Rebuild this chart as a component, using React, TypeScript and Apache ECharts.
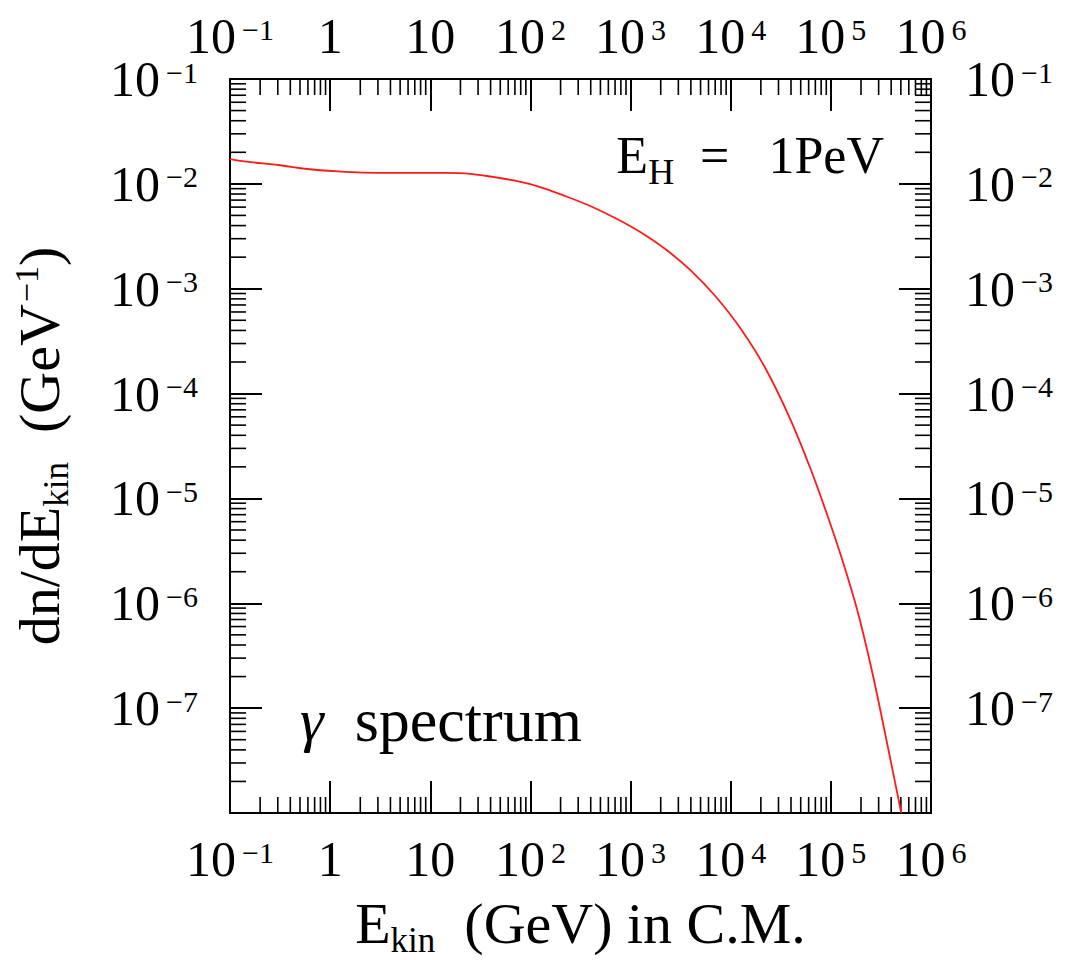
import React, { useEffect, useRef } from 'react';
import * as echarts from 'echarts';

// γ spectrum in the C.M. frame for E_H = 1 PeV
const energyGeV = [
  0.1, 0.148, 0.302, 0.589, 1.2, 2.13, 4.99, 14.7, 22.3, 39.6, 70.3, 125, 222, 395, 702, 1248,
  2218, 3936, 7000, 12440, 22130, 39270, 62230, 92040, 133000, 187900, 265400, 365700, 505000,
];
const dnDE = [
  1.725e-2, 1.626e-2, 1.513e-2, 1.386e-2, 1.313e-2, 1.278e-2, 1.27e-2, 1.27e-2, 1.256e-2, 1.175e-2,
  1.071e-2, 9.33e-3, 7.66e-3, 6.15e-3, 4.72e-3, 3.47e-3, 2.39e-3, 1.51e-3, 8.52e-4, 4.22e-4,
  1.753e-4, 5.72e-5, 1.951e-5, 6.95e-6, 2.42e-6, 7.91e-7, 1.98e-7, 4.55e-8, 1.0e-8,
];

// axis ranges and tick decades
const X_MIN = 0.1;
const X_MAX = 1e6;
const Y_MIN = 1e-8;
const Y_MAX = 1e-1;
const xDecades = [-1, 0, 1, 2, 3, 4, 5];
const yDecades = [-8, -7, -6, -5, -4, -3, -2];
const yUnlabeled = [-8];
const minorMultipliers = [2, 3, 4, 5, 6, 7, 8, 9];

const xMinorTicks = xDecades.flatMap((e) => minorMultipliers.map((m) => m * Math.pow(10, e)));
const yMinorTicks = yDecades.flatMap((e) => minorMultipliers.map((m) => m * Math.pow(10, e)));

const FONT = '"Liberation Serif", "Times New Roman", serif';

const decadeLabel = (v: number) => {
  const e = Math.round(Math.log10(v));
  if (e === 0) return '{b|1}';
  if (e === 1) return '{b|10}';
  return `{b|10}{s|${e < 0 ? '\u2212' : ''}${Math.abs(e)}}`;
};

// superscripts are raised with bottom padding, subscripts lowered with top padding
const tickRich = {
  b: { fontFamily: FONT, fontSize: 50, lineHeight: 40, color: '#000' },
  s: { fontFamily: FONT, fontSize: 30, lineHeight: 20, color: '#000', padding: [0, 0, 14, 6] },
};

const makeAxis = (min: number, max: number, position: string, margin: number, formatter: (v: number) => string) => ({
  type: 'log',
  logBase: 10,
  min,
  max,
  position,
  axisLine: { show: true, onZero: false, lineStyle: { color: '#000', width: 2 } },
  axisTick: { show: true, inside: true, length: 32, lineStyle: { color: '#000', width: 2 } },
  minorTick: { show: false },
  splitLine: { show: false },
  axisLabel: {
    show: true,
    margin,
    formatter,
    rich: tickRich,
    showMinLabel: true,
    showMaxLabel: true,
    hideOverlap: false,
  },
});

const yFormatter = (v: number) => {
  const e = Math.round(Math.log10(v));
  return yUnlabeled.includes(e) ? '' : decadeLabel(v);
};

export default function App() {
  const ref = useRef<HTMLDivElement>(null);

  useEffect(() => {
    document.body.style.margin = '0';
    if (!ref.current) return;
    const chart = echarts.init(ref.current, undefined, { renderer: 'svg' });

    const tickStyle = { stroke: '#000', lineWidth: 1.6 };
    const MINOR = 16;

    const titleRich = {
      t: { fontFamily: FONT, fontSize: 58, lineHeight: 58, color: '#000' },
      k: { fontFamily: FONT, fontSize: 35, lineHeight: 20, color: '#000', padding: [34, 0, 0, 0] },
      s: { fontFamily: FONT, fontSize: 34, lineHeight: 20, color: '#000', padding: [0, 0, 26, 2] },
    };

    const xBottom: any = makeAxis(X_MIN, X_MAX, 'bottom', 26, decadeLabel);
    xBottom.name = '{t|E}{k|kin}{t|  (GeV) in C.M.}';
    xBottom.nameLocation = 'middle';
    xBottom.nameGap = 49;
    xBottom.nameTextStyle = { rich: titleRich };

    const yLeft: any = makeAxis(Y_MIN, Y_MAX, 'left', 32, yFormatter);
    yLeft.name = '{t|dn/dE}{k|kin}{t|  (GeV}{s|\u22121}{t|)}';
    yLeft.nameLocation = 'middle';
    yLeft.nameRotate = 90;
    yLeft.nameGap = 162;
    yLeft.nameTextStyle = { rich: titleRich };

    const option: any = {
      animation: false,
      backgroundColor: '#fff',
      grid: { left: 230, top: 79, right: 135, bottom: 147, containLabel: false, outerBoundsMode: 'none' },
      xAxis: [xBottom, makeAxis(X_MIN, X_MAX, 'top', 23, decadeLabel)],
      yAxis: [yLeft, makeAxis(Y_MIN, Y_MAX, 'right', 34, yFormatter)],
      series: [
        {
          type: 'line',
          xAxisIndex: 0,
          yAxisIndex: 0,
          data: energyGeV.map((e, i) => [e, dnDE[i]]),
          showSymbol: false,
          smooth: 0.3,
          lineStyle: { color: '#ff1a1a', width: 1.8 },
          clip: true,
          z: 4,
        },
        {
          type: 'custom',
          xAxisIndex: 0,
          yAxisIndex: 0,
          silent: true,
          clip: false,
          data: xMinorTicks.map((v) => [v, Y_MIN]),
          renderItem: (params: any, api: any) => {
            const cs = params.coordSys;
            const px = api.coord([api.value(0), Y_MIN])[0];
            const bottom = cs.y + cs.height;
            return {
              type: 'group',
              children: [
                { type: 'line', shape: { x1: px, y1: bottom, x2: px, y2: bottom - MINOR }, style: tickStyle },
                { type: 'line', shape: { x1: px, y1: cs.y, x2: px, y2: cs.y + MINOR }, style: tickStyle },
              ],
            };
          },
        },
        {
          type: 'custom',
          xAxisIndex: 0,
          yAxisIndex: 0,
          silent: true,
          clip: false,
          data: yMinorTicks.map((v) => [X_MIN, v]),
          renderItem: (params: any, api: any) => {
            const cs = params.coordSys;
            const py = api.coord([X_MIN, api.value(1)])[1];
            const right = cs.x + cs.width;
            return {
              type: 'group',
              children: [
                { type: 'line', shape: { x1: cs.x, y1: py, x2: cs.x + MINOR, y2: py }, style: tickStyle },
                { type: 'line', shape: { x1: right, y1: py, x2: right - MINOR, y2: py }, style: tickStyle },
              ],
            };
          },
        },
      ],
      graphic: [
        {
          type: 'text',
          x: 884,
          y: 155,
          style: {
            text: '{t|E}{h|H}{t|  =   1PeV}',
            align: 'right',
            verticalAlign: 'middle',
            rich: {
              t: { fontFamily: FONT, fontSize: 52, lineHeight: 52, fill: '#000' },
              h: { fontFamily: FONT, fontSize: 36, lineHeight: 20, fill: '#000', padding: [34, 0, 0, 0] },
            },
          },
        },
        {
          type: 'text',
          x: 300,
          y: 720,
          style: {
            text: '{g|\u03b3}{t|  spectrum}',
            align: 'left',
            verticalAlign: 'middle',
            rich: {
              g: { fontFamily: FONT, fontSize: 60, lineHeight: 62, fontStyle: 'italic', fill: '#000' },
              t: { fontFamily: FONT, fontSize: 62, lineHeight: 62, fill: '#000' },
            },
          },
        },
      ],
    };

    chart.setOption(option);
    return () => chart.dispose();
  }, []);

  return <div ref={ref} style={{ width: 1066, height: 960 }} />;
}
